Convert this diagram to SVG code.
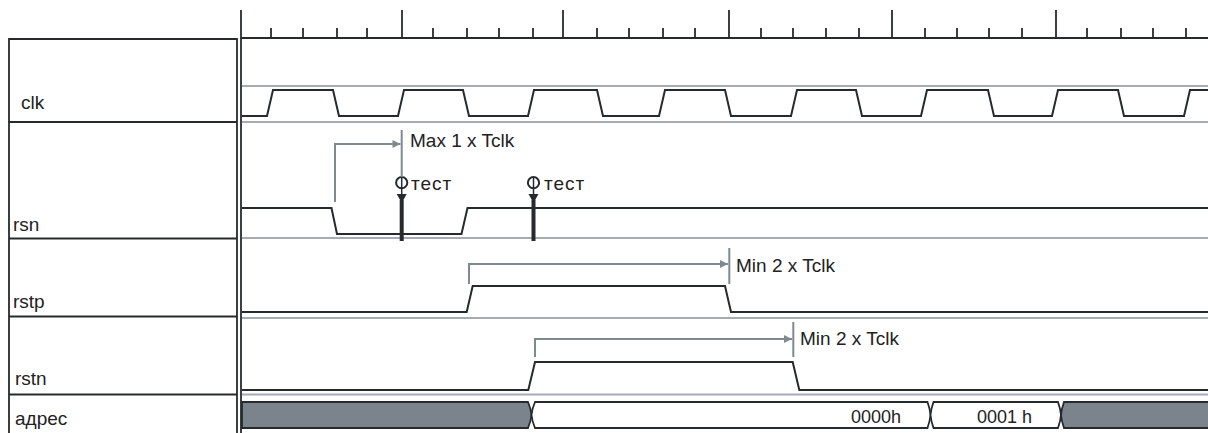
<svg xmlns="http://www.w3.org/2000/svg" width="1208" height="433" viewBox="0 0 1208 433">
<style>
.frame{stroke:#262a2e;stroke-width:1.8;fill:none}
.grid{stroke:#a4abb3;stroke-width:2;fill:none}
.wave{stroke:#262a2e;stroke-width:2;fill:none;stroke-linejoin:miter}
.tick{stroke:#262a2e;stroke-width:1.8}
.lbl{font-family:"Liberation Sans",Arial,sans-serif;font-size:19px;fill:#222}
.ann{font-family:"Liberation Sans",Arial,sans-serif;font-size:19px;fill:#222}
.bt{font-family:"Liberation Sans",Arial,sans-serif;font-size:18px;fill:#222}
.tst{font-family:"Liberation Sans",Arial,sans-serif;font-size:19px;letter-spacing:1px;fill:#222}
.arr{stroke:#7f8992;stroke-width:2;fill:none}
.bus{stroke:#262a2e;stroke-width:1.8}
</style>
<defs>
<marker id="ah" viewBox="0 0 10 10" refX="10" refY="5" markerWidth="10" markerHeight="8" markerUnits="userSpaceOnUse" orient="auto">
<path d="M0,0 L10,5 L0,10 Z" fill="#7f8992"/>
</marker>
</defs>
<rect width="1208" height="433" fill="#fff"/>

<g id="ruler">
<line class="frame" x1="241" y1="38" x2="1208" y2="38"/>
<line class="frame" x1="241" y1="10" x2="241" y2="433"/>
<g class="tick">
<line x1="402" y1="10" x2="402" y2="38"/>
<line x1="563" y1="10" x2="563" y2="38"/>
<line x1="729" y1="10" x2="729" y2="38"/>
<line x1="892" y1="10" x2="892" y2="38"/>
<line x1="1056" y1="10" x2="1056" y2="38"/>
<line x1="271" y1="28" x2="271" y2="38"/>
<line x1="303" y1="28" x2="303" y2="38"/>
<line x1="337" y1="28" x2="337" y2="38"/>
<line x1="367" y1="28" x2="367" y2="38"/>
<line x1="433" y1="28" x2="433" y2="38"/>
<line x1="467" y1="28" x2="467" y2="38"/>
<line x1="499" y1="28" x2="499" y2="38"/>
<line x1="533" y1="28" x2="533" y2="38"/>
<line x1="597" y1="28" x2="597" y2="38"/>
<line x1="629" y1="28" x2="629" y2="38"/>
<line x1="663" y1="28" x2="663" y2="38"/>
<line x1="695" y1="28" x2="695" y2="38"/>
<line x1="761" y1="28" x2="761" y2="38"/>
<line x1="793" y1="28" x2="793" y2="38"/>
<line x1="826" y1="28" x2="826" y2="38"/>
<line x1="859" y1="28" x2="859" y2="38"/>
<line x1="925" y1="28" x2="925" y2="38"/>
<line x1="957" y1="28" x2="957" y2="38"/>
<line x1="989" y1="28" x2="989" y2="38"/>
<line x1="1022" y1="28" x2="1022" y2="38"/>
<line x1="1087" y1="28" x2="1087" y2="38"/>
<line x1="1121" y1="28" x2="1121" y2="38"/>
<line x1="1153" y1="28" x2="1153" y2="38"/>
<line x1="1186" y1="28" x2="1186" y2="38"/>
</g>
</g>

<g id="label-panel">
<path class="frame" d="M9,433 V39 H237 V433"/>
<line class="frame" x1="9" y1="122" x2="237" y2="122"/>
<line class="frame" x1="9" y1="238.5" x2="237" y2="238.5" stroke-width="2.6"/>
<line class="frame" x1="9" y1="316.5" x2="237" y2="316.5"/>
<line class="frame" x1="9" y1="394.5" x2="237" y2="394.5"/>
</g>

<g id="clk">
<text class="lbl" x="21" y="109">clk</text>
<line class="grid" x1="242" y1="86" x2="1208" y2="86"/>
<line class="grid" x1="242" y1="122" x2="1208" y2="122"/>
<path class="wave" d="M242,116 L267,116 L273,90 L333,90 L339,116 L398,116 L404,90 L463,90 L469,116 L528,116 L534,90 L597,90 L603,116 L659,116 L665,90 L725,90 L731,116 L791,116 L797,90 L856,90 L862,116 L921,116 L927,90 L988,90 L994,116 L1052,116 L1058,90 L1118,90 L1124,116 L1184,116 L1190,90 L1208,90"/>
</g>

<g id="rsn">
<text class="lbl" x="13" y="231">rsn</text>
<line class="grid" x1="242" y1="238" x2="1208" y2="238"/>
<path class="wave" d="M242,208 L331.5,208 L337,234 L461.5,234 L467.5,208 L1208,208"/>
</g>

<g id="test1">
<circle cx="401.7" cy="182.7" r="5.6" fill="none" stroke="#262a2e" stroke-width="2"/>
<line x1="401.7" y1="177" x2="401.7" y2="195" stroke="#262a2e" stroke-width="1.5"/>
<path d="M396.7,194 L406.7,194 L401.7,203 Z" fill="#262a2e"/>
<line x1="401.7" y1="200" x2="401.7" y2="241" stroke="#262a2e" stroke-width="4"/>
<text class="tst" x="411" y="190">тест</text>
</g>

<g id="test2">
<circle cx="533.5" cy="182.7" r="5.6" fill="none" stroke="#262a2e" stroke-width="2"/>
<line x1="533.5" y1="177" x2="533.5" y2="195" stroke="#262a2e" stroke-width="1.5"/>
<path d="M528.5,194 L538.5,194 L533.5,203 Z" fill="#262a2e"/>
<line x1="533.5" y1="200" x2="533.5" y2="241" stroke="#262a2e" stroke-width="4"/>
<text class="tst" x="544" y="190">тест</text>
</g>

<g id="rstp">
<text class="lbl" x="13" y="308">rstp</text>
<line class="grid" x1="242" y1="318" x2="1208" y2="318"/>
<path class="wave" d="M242,312 L466.7,312 L472.7,286 L725,286 L731,312 L1208,312"/>
</g>

<g id="rstn">
<text class="lbl" x="15" y="385">rstn</text>
<line class="grid" x1="242" y1="394.5" x2="1208" y2="394.5"/>
<path class="wave" d="M242,390 L528.3,390 L535,362 L792.7,362 L799.3,390 L1208,390"/>
</g>

<g id="adres">
<text class="lbl" x="15" y="425">адрес</text>
<path d="M242,402 L528,402 Q531,409 531.5,415 Q531,421 528,428 L242,428 Z" fill="#7b848c" stroke="#262a2e" stroke-width="1.8"/>
<path d="M535,402 L927.5,402 Q930,409 930.5,415 Q930,421 927.5,428 L535,428 Q532,421 531.5,415 Q532,409 535,402 Z" fill="#fff" class="bus"/>
<path d="M933.5,402 L1058,402 Q1060.5,409 1061,415 Q1060.5,421 1058,428 L933.5,428 Q931,421 930.5,415 Q931,409 933.5,402 Z" fill="#fff" class="bus"/>
<path d="M1208,402 L1064,402 Q1061.5,409 1061,415 Q1061.5,421 1064,428 L1208,428" fill="#7b848c" class="bus"/>
<text class="bt" x="901" y="423" text-anchor="end">0000h</text>
<text class="bt" x="977" y="423">0001 h</text>
</g>

<g id="connectors">
<path class="arr" d="M335,202 V144 H400.5" marker-end="url(#ah)"/>
<line class="arr" x1="401.7" y1="130" x2="401.7" y2="177"/>
<text class="ann" x="410" y="147">Max 1 x Tclk</text>
<path class="arr" d="M469,284 V264 H728" marker-end="url(#ah)"/>
<line class="arr" x1="729.3" y1="248" x2="729.3" y2="284"/>
<text class="ann" x="736" y="272">Min 2 x Tclk</text>
<path class="arr" d="M535,357 V339 H792" marker-end="url(#ah)"/>
<line class="arr" x1="793.3" y1="322" x2="793.3" y2="357"/>
<text class="ann" x="800" y="345">Min 2 x Tclk</text>
</g>
</svg>
